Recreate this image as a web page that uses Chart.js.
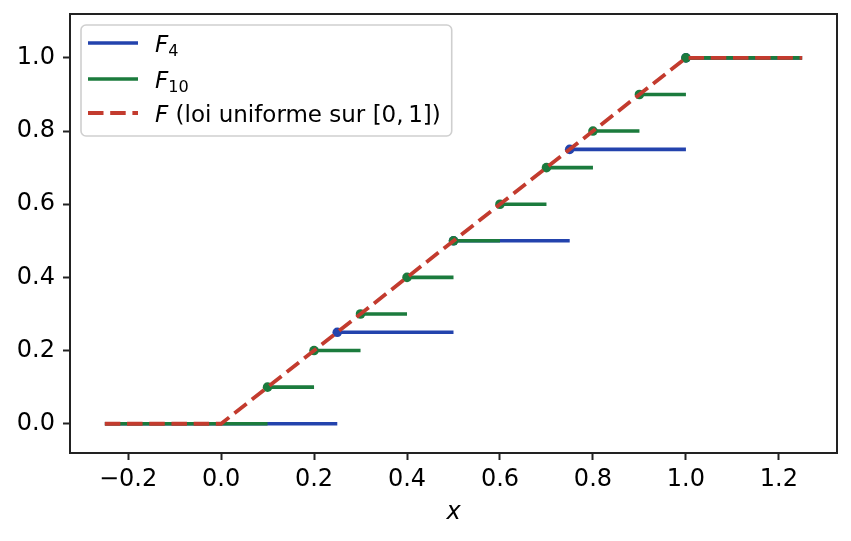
<!DOCTYPE html>
<html>
<head>
<meta charset="utf-8">
<script src="https://cdn.jsdelivr.net/npm/chart.js@4.4.0/dist/chart.umd.min.js"></script>
<style>
  html, body { margin: 0; padding: 0; background: #fff; }
  #wrap { width: 851px; height: 541px; }
</style>
</head>
<body>
<div id="wrap"><canvas id="chart" width="851" height="541"></canvas></div>
<script>
// empirical CDFs F4 and F10 (jump points and levels), and the uniform CDF
const f4Breaks  = [-0.25, 0.25, 0.5, 0.75, 1.0, 1.25];
const f4Levels  = [0, 0.25, 0.5, 0.75, 1.0];
const f10Breaks = [-0.25, 0.1, 0.2, 0.3, 0.4, 0.5, 0.6, 0.7, 0.8, 0.9, 1.0, 1.25];
const f10Levels = [0, 0.1, 0.2, 0.3, 0.4, 0.5, 0.6, 0.7, 0.8, 0.9, 1.0];
const uniX = [-0.25, 0, 1, 1.25];
const uniY = [0, 0, 1, 1];

const xTicks = [-0.2, 0, 0.2, 0.4, 0.6, 0.8, 1.0, 1.2];
const yTicks = [0, 0.2, 0.4, 0.6, 0.8, 1.0];

// legend labels: italic F with a subscript
const seriesNames = [
  [{t: 'F', it: true}, {t: '4', sub: true}],
  [{t: 'F', it: true}, {t: '10', sub: true}],
  [{t: 'F', it: true}, {t: ' (loi uniforme sur [0,\u20091])'}]
];

const BLUE = '#2343ad', GREEN = '#1b7b3d', RED = '#c33b2e', AXIS = '#222';
const FONT = 'DejaVu Sans';
const FS = 24;      // ticks and axis title
const LFS = 23;     // legend

// horizontal pieces [b_i, b_i+1) at level l_i, broken with nulls (no vertical jumps)
function steps(breaks, levels) {
  var pts = [];
  levels.forEach(function(l, i) {
    pts.push({x: breaks[i], y: l}, {x: breaks[i + 1], y: l}, {x: breaks[i + 1], y: null});
  });
  return pts;
}
// dot at the left end of each jump
function jumps(breaks, levels) {
  var pts = [];
  for (var i = 1; i < levels.length; i++) pts.push({x: breaks[i], y: levels[i]});
  return pts;
}

function fmt(v) {
  var s = Math.abs(v).toFixed(1);
  return v < -1e-9 ? '\u2212' + s : s;
}

const framePlugin = {
  id: 'frame',
  afterDraw: function(chart) {
    var a = chart.chartArea, ctx = chart.ctx;
    ctx.save();
    ctx.strokeStyle = AXIS;
    ctx.lineWidth = 2;
    ctx.strokeRect(a.left, a.top, a.right - a.left, a.bottom - a.top);
    ctx.restore();
  }
};

const legendPlugin = {
  id: 'mplLegend',
  afterDraw: function(chart) {
    var ctx = chart.ctx;
    var colors = [BLUE, GREEN, RED];
    var dashes = [[], [], [15.5, 6.7]];
    var rows = [43, 79, 113];
    var textX = 155;
    ctx.save();
    var maxW = 0;
    seriesNames.forEach(function(parts) {
      var w = 0;
      parts.forEach(function(p) {
        ctx.font = (p.it ? 'italic ' : '') + (p.sub ? LFS * 0.7 : LFS) + 'px "' + FONT + '"';
        w += ctx.measureText(p.t).width;
      });
      maxW = Math.max(maxW, w);
    });
    var bx = 81, by = 25, bw = textX + maxW + 11 - bx, bh = 111;
    ctx.beginPath();
    ctx.roundRect(bx, by, bw, bh, 5);
    ctx.fillStyle = 'rgba(255,255,255,0.8)';
    ctx.fill();
    ctx.strokeStyle = '#cfcfcf';
    ctx.lineWidth = 1.6;
    ctx.stroke();

    seriesNames.forEach(function(parts, i) {
      var y = rows[i];
      ctx.beginPath();
      ctx.setLineDash(dashes[i]);
      ctx.strokeStyle = colors[i];
      ctx.lineWidth = i === 2 ? 3.8 : 3.6;
      ctx.moveTo(88, y);
      ctx.lineTo(138, y);
      ctx.stroke();
      ctx.setLineDash([]);
      var x = textX;
      ctx.fillStyle = '#000';
      ctx.textBaseline = 'alphabetic';
      parts.forEach(function(p) {
        ctx.font = (p.it ? 'italic ' : '') + (p.sub ? LFS * 0.7 : LFS) + 'px "' + FONT + '"';
        ctx.fillText(p.t, x, y + 9 + (p.sub ? 3.5 : 0));
        x += ctx.measureText(p.t).width;
      });
    });
    ctx.restore();
  }
};

function lineDs(data, color, order, dash, width) {
  return {data: data, showLine: true, borderColor: color, borderWidth: width,
          borderDash: dash || [], pointRadius: 0, pointHoverRadius: 0,
          spanGaps: false, fill: false, tension: 0, order: order};
}
function dotDs(data, color, order) {
  return {data: data, showLine: false, pointRadius: 4.8, pointHoverRadius: 4.8,
          pointBackgroundColor: color, pointBorderWidth: 0, backgroundColor: color,
          borderColor: color, order: order};
}

new Chart(document.getElementById('chart').getContext('2d'), {
  type: 'scatter',
  data: {
    datasets: [
      lineDs(steps(f4Breaks, f4Levels), BLUE, 5, [], 3.6),
      dotDs(jumps(f4Breaks, f4Levels), BLUE, 4),
      lineDs(steps(f10Breaks, f10Levels), GREEN, 3, [], 3.6),
      dotDs(jumps(f10Breaks, f10Levels), GREEN, 2),
      lineDs(uniX.map(function(x, i) { return {x: x, y: uniY[i]}; }), RED, 0, [15.5, 6.7], 3.8)
    ]
  },
  options: {
    responsive: false,
    animation: false,
    devicePixelRatio: 1,
    layout: {padding: {top: 14, right: 14, left: 0, bottom: 0}},
    plugins: {legend: {display: false}, tooltip: {enabled: false}},
    scales: {
      x: {
        type: 'linear', min: -0.325, max: 1.325,
        afterBuildTicks: function(s) { s.ticks = xTicks.map(function(v) { return {value: v}; }); },
        afterFit: function(s) { s.height = 88; s.paddingLeft = 0; s.paddingRight = 0; },
        ticks: {callback: fmt, color: '#000', font: {family: FONT, size: FS}, padding: 5,
                maxRotation: 0, autoSkip: false},
        grid: {drawOnChartArea: false, drawTicks: true, tickLength: 7, tickWidth: 2, tickColor: AXIS},
        border: {display: true, color: AXIS, width: 2},
        title: {display: true, text: 'x', color: '#000',
                font: {family: FONT, size: FS, style: 'italic'}, padding: {top: 0, bottom: 14}}
      },
      y: {
        type: 'linear', min: -0.08, max: 1.12,
        afterBuildTicks: function(s) { s.ticks = yTicks.map(function(v) { return {value: v}; }); },
        afterFit: function(s) { s.width = 70; s.paddingTop = 0; s.paddingBottom = 0; },
        ticks: {callback: fmt, color: '#000', font: {family: FONT, size: FS}, padding: 8},
        grid: {drawOnChartArea: false, drawTicks: true, tickLength: 7, tickWidth: 2, tickColor: AXIS},
        border: {display: true, color: AXIS, width: 2}
      }
    }
  },
  plugins: [framePlugin, legendPlugin]
});
</script>
</body>
</html>
